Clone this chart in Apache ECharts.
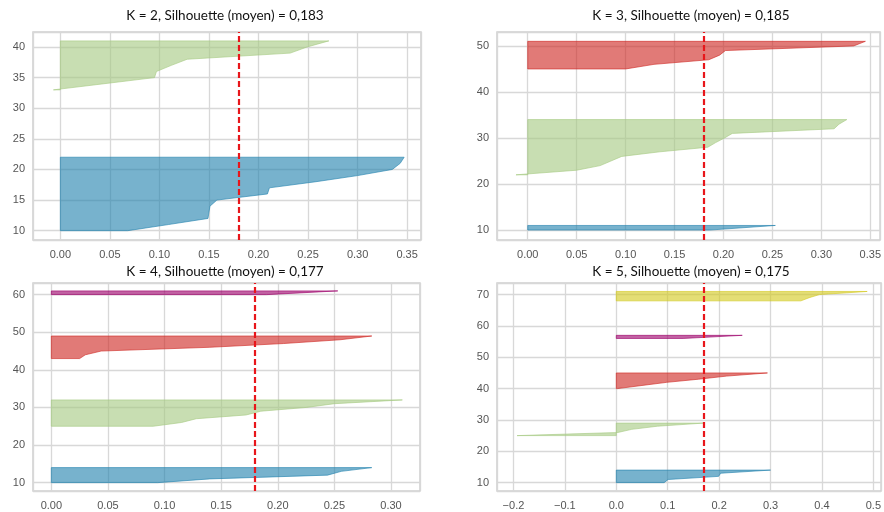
<!DOCTYPE html>
<html>
<head>
<meta charset="utf-8">
<script src="https://cdn.jsdelivr.net/npm/echarts@6/dist/echarts.min.js"></script>
<style>
  html, body { margin: 0; background: #fff; }
  #main { width: 884px; height: 512px; }
</style>
</head>
<body>
<div id="main"></div>
<script>
// sorted silhouette values of each cluster
const k2Blue = [0.068, 0.109, 0.149, 0.150, 0.151, 0.158, 0.209, 0.211, 0.258, 0.300, 0.335, 0.343, 0.347];
const k2Green = [-0.007, 0.044, 0.095, 0.097, 0.112, 0.128, 0.232, 0.249, 0.271];

const k3Blue = [0.186, 0.253];
const k3Green = [-0.012, 0.050, 0.074, 0.085, 0.096, 0.135, 0.184, 0.192, 0.201, 0.209, 0.313, 0.318, 0.326];
const k3Red = [0.100, 0.129, 0.185, 0.196, 0.202, 0.333, 0.345];

const k4Blue = [0.094, 0.140, 0.244, 0.256, 0.283];
const k4Green = [0.090, 0.115, 0.128, 0.172, 0.185, 0.225, 0.250, 0.310];
const k4Red = [0.025, 0.030, 0.044, 0.140, 0.205, 0.255, 0.283];
const k4Magenta = [0.190, 0.253];

const k5Blue = [0.093, 0.101, 0.199, 0.203, 0.300];
const k5Green = [-0.193, 0.003, 0.030, 0.080, 0.170];
const k5Red = [0.002, 0.050, 0.098, 0.160, 0.215, 0.294];
const k5Magenta = [0.130, 0.245];
const k5Yellow = [0.359, 0.375, 0.395, 0.488];

const kValues = [2, 3, 4, 5];
const avgScores = [0.183, 0.185, 0.177, 0.175];

const clusterColors = [
  'rgba(35,130,175,0.62)',
  'rgba(167,201,130,0.62)',
  'rgba(207,41,35,0.62)',
  'rgba(157,1,107,0.62)',
  'rgba(212,201,32,0.62)'
];

// layout of the four panels
const panels = [
  { clusters: [k2Blue, k2Green], grid: { left: 33, top: 32, width: 388, height: 208 },
    xRange: [-0.0276, 0.364], xSplit: 8, yRange: [8.48, 42.45], ySplit: 7, dec: 2, titleX: 220, titleY: 4 },
  { clusters: [k3Blue, k3Green, k3Red], grid: { left: 497, top: 32, width: 386, height: 208 },
    xRange: [-0.0314, 0.360], xSplit: 8, yRange: [7.84, 53.03], ySplit: 5, dec: 2, titleX: 686, titleY: 4 },
  { clusters: [k4Blue, k4Green, k4Red, k4Magenta], grid: { left: 33, top: 283, width: 387, height: 208 },
    xRange: [-0.0162, 0.3256], xSplit: 7, yRange: [7.78, 63.1], ySplit: 6, dec: 2, titleX: 220, titleY: 260 },
  { clusters: [k5Blue, k5Green, k5Red, k5Magenta, k5Yellow], grid: { left: 497, top: 283, width: 386, height: 208 },
    xRange: [-0.232, 0.515], xSplit: 7, yRange: [7.33, 73.7], ySplit: 7, dec: 1, titleX: 686, titleY: 260 }
];

function fmtTick(dec) {
  return function (v) {
    return v.toFixed(dec).replace('-', '\u2212');
  };
}

// same stacking as yellowbrick: first cluster at y=10, gap of 10 between clusters
function clusterShape(values, y0, color) {
  return function (params, api) {
    if (params.dataIndex !== 0) return null;
    const pts = [api.coord([0, y0])];
    values.forEach(function (v, i) {
      pts.push(api.coord([v, y0 + i]));
    });
    pts.push(api.coord([0, y0 + values.length - 1]));
    return {
      type: 'polygon',
      shape: { points: pts },
      style: { fill: color, stroke: color, lineWidth: 1 }
    };
  };
}

const chart = echarts.init(document.getElementById('main'));

const grids = [], xAxes = [], yAxes = [], series = [], titles = [];
const labelStyle = { color: '#555', fontSize: 11, fontFamily: 'Liberation Sans' };
const splitStyle = { lineStyle: { color: '#d8d8d8', width: 1.3 } };

panels.forEach(function (p, pi) {
  grids.push(Object.assign({ show: true, borderColor: '#d0d0d0', borderWidth: 1.5, backgroundColor: '#fff' }, p.grid));
  titles.push({
    text: 'K = ' + kValues[pi] + ', Silhouette (moyen) = ' + avgScores[pi].toFixed(3).replace('.', ','),
    left: p.titleX, top: p.titleY, textAlign: 'center',
    textStyle: { fontSize: 13.5, fontWeight: 'normal', color: '#111', fontFamily: 'Lato' }
  });
  xAxes.push({
    type: 'value', gridIndex: pi, min: p.xRange[0], max: p.xRange[1], splitNumber: p.xSplit,
    axisLine: { show: false }, axisTick: { show: false },
    axisLabel: Object.assign({ margin: 9, showMinLabel: false, showMaxLabel: false, formatter: fmtTick(p.dec) }, labelStyle),
    splitLine: splitStyle
  });
  yAxes.push({
    type: 'value', gridIndex: pi, min: p.yRange[0], max: p.yRange[1], splitNumber: p.ySplit,
    axisLine: { show: false }, axisTick: { show: false },
    axisLabel: Object.assign({ margin: 8, showMinLabel: false, showMaxLabel: false }, labelStyle),
    splitLine: splitStyle
  });

  let yLower = 10;
  p.clusters.forEach(function (vals, ci) {
    const s = {
      type: 'custom',
      xAxisIndex: pi, yAxisIndex: pi,
      data: vals.map(function (v, i) { return [v, yLower + i]; }),
      encode: { x: 0, y: 1 },
      renderItem: clusterShape(vals, yLower, clusterColors[ci]),
      silent: true
    };
    if (ci === p.clusters.length - 1) {
      s.markLine = {
        silent: true, symbol: ['none', 'none'], label: { show: false },
        lineStyle: { color: '#e8161b', width: 2.2, type: [6, 3] },
        data: [{ xAxis: avgScores[pi] }]
      };
    }
    series.push(s);
    yLower += vals.length + 10;
  });
});

chart.setOption({
  animation: false,
  backgroundColor: '#fff',
  title: titles,
  grid: grids,
  xAxis: xAxes,
  yAxis: yAxes,
  series: series
});
</script>
</body>
</html>
